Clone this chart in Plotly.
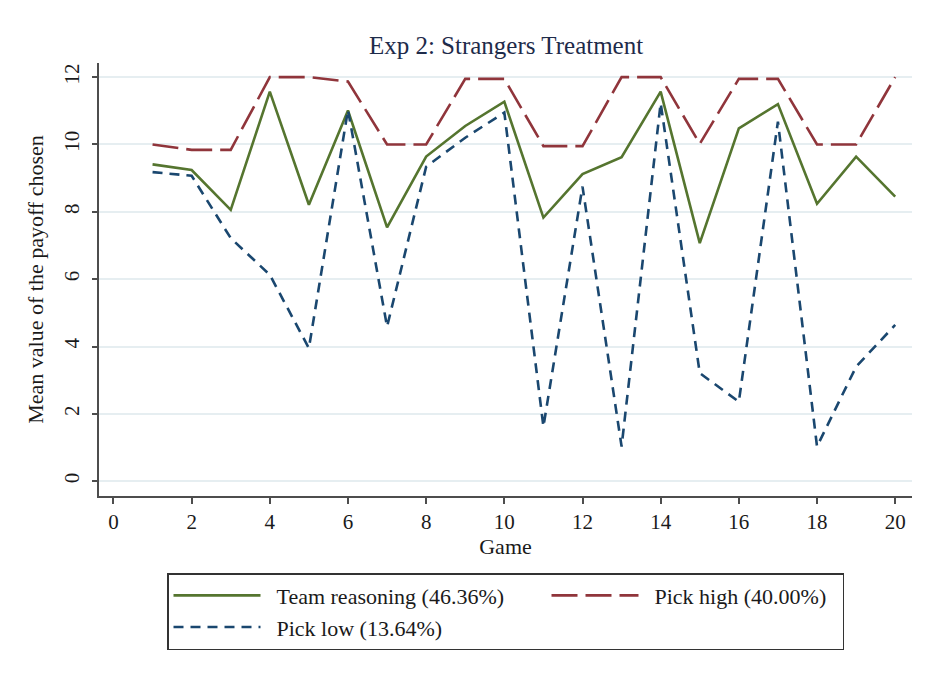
import plotly.graph_objects as go

games = list(range(1, 21))
team_reasoning = [9.41, 9.24, 8.06, 11.57, 8.21, 11.01, 7.54, 9.64, 10.55, 11.27,
                  7.83, 9.12, 9.62, 11.57, 7.07, 10.48, 11.20, 8.24, 9.64, 8.45]
pick_high = [10.0, 9.84, 9.84, 12.0, 12.0, 11.87, 10.0, 10.0, 11.95, 11.95,
             9.95, 9.95, 12.0, 12.0, 10.02, 11.95, 11.95, 10.0, 10.0, 12.0]
pick_low = [9.18, 9.07, 7.22, 6.13, 3.95, 11.03, 4.59, 9.34, 10.2, 10.95,
            1.62, 8.75, 1.03, 11.23, 3.21, 2.36, 10.68, 1.03, 3.40, 4.64]

names = ["Team reasoning (46.36%)", "Pick high (40.00%)", "Pick low (13.64%)"]
x_ticks = list(range(0, 21, 2))
y_ticks = list(range(0, 13, 2))

FONT = "Liberation Serif"
GREEN = "#55752f"
RED = "#90353b"
BLUE = "#1a476f"
PAD = "\u00a0\u00a0"

fig = go.Figure()
fig.add_trace(go.Scatter(x=games, y=team_reasoning, mode="lines", name=PAD + names[0],
                         line=dict(color=GREEN, width=2.6), legendwidth=276))
fig.add_trace(go.Scatter(x=games, y=pick_high, mode="lines", name=PAD + names[1] + PAD,
                         line=dict(color=RED, width=2.6, dash="26px,8px")))
fig.add_trace(go.Scatter(x=games, y=pick_low, mode="lines", name=PAD + names[2],
                         line=dict(color=BLUE, width=2.6, dash="10px,7px")))

fig.update_layout(
    width=917, height=669,
    margin=dict(l=91, r=13, t=55, b=181, autoexpand=False),
    paper_bgcolor="white", plot_bgcolor="white",
    font=dict(family=FONT, color="#1a1a1a", size=21),
    title=dict(text="Exp 2: Strangers Treatment", x=0.5431, xanchor="center",
               y=0.9447, yanchor="middle",
               font=dict(family=FONT, size=25, color="#1e2b4a")),
    showlegend=True,
    legend=dict(orientation="h", x=0.5, xanchor="center", y=-0.178, yanchor="top",
                bordercolor="#333333", borderwidth=1.5, bgcolor="white",
                font=dict(family=FONT, size=22, color="#1a1a1a"),
                itemwidth=87, traceorder="normal"),
)
fig.update_xaxes(
    range=[-0.37, 20.43], tickvals=x_ticks, ticktext=[str(v) for v in x_ticks],
    showgrid=False, zeroline=False, showline=True, linecolor="#4d4d4d", linewidth=1.5,
    ticks="outside", ticklen=6, tickwidth=1.5, tickcolor="#4d4d4d",
    tickfont=dict(family=FONT, size=21, color="#1a1a1a"),
    title=dict(text="Game", font=dict(family=FONT, size=22, color="#1a1a1a"), standoff=2),
)
fig.update_yaxes(
    range=[-0.44, 12.42], tickvals=y_ticks, ticktext=[str(v) for v in y_ticks],
    showgrid=True, gridcolor="#e6eef1", gridwidth=1.5,
    zeroline=False, showline=True, linecolor="#4d4d4d", linewidth=1.5,
    ticks="outside", ticklen=5, tickwidth=1.5, tickcolor="#4d4d4d", tickangle=-90,
    ticklabelstandoff=5,
    tickfont=dict(family=FONT, size=21, color="#1a1a1a"),
    title=dict(text="Mean value of the payoff chosen",
               font=dict(family=FONT, size=22, color="#1a1a1a"), standoff=10),
)

fig.write_html("out.html")
